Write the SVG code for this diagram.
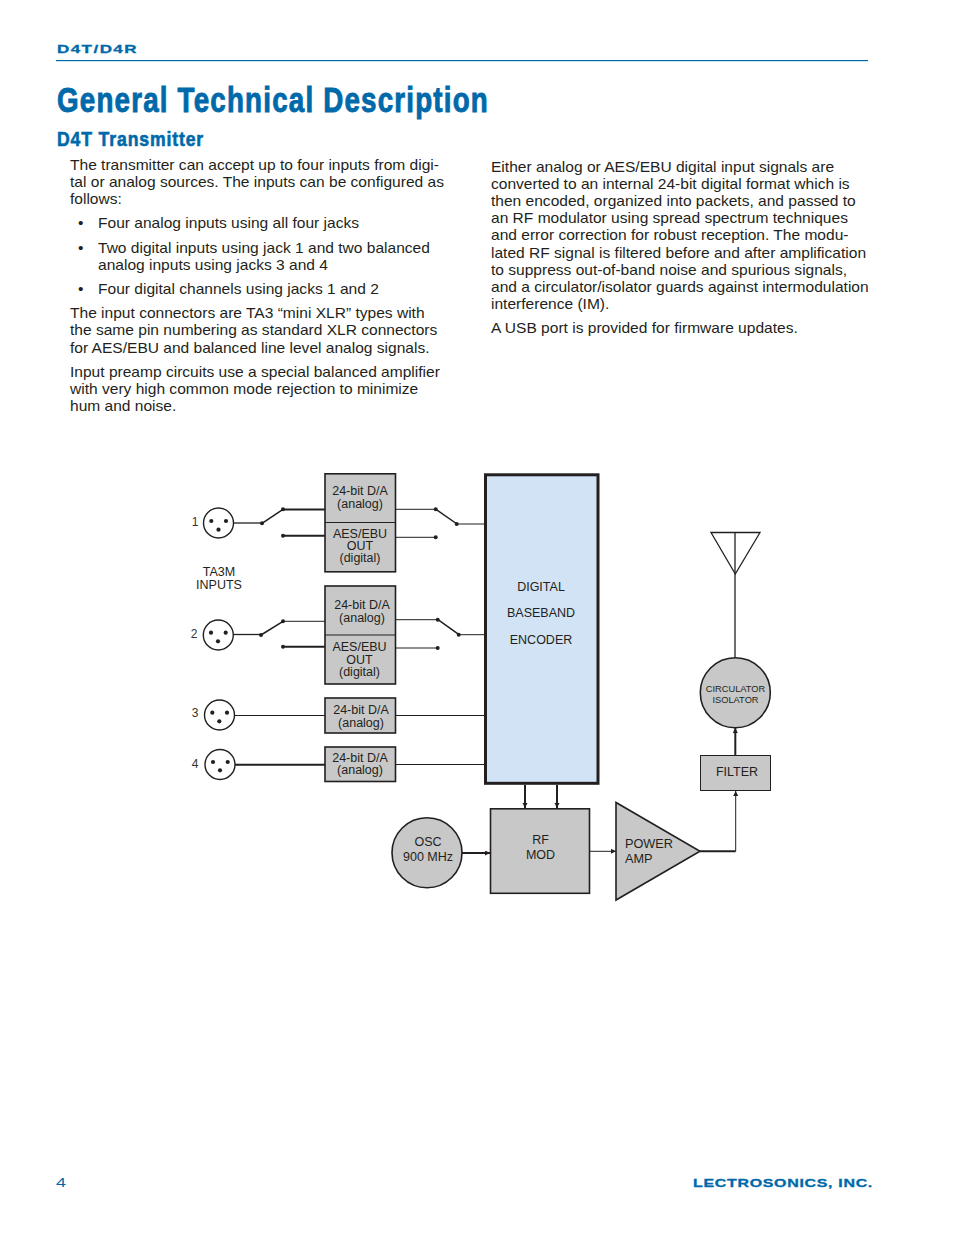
<svg xmlns="http://www.w3.org/2000/svg" width="954" height="1235" viewBox="0 0 954 1235">
<style>
text{font-family:"Liberation Sans",Arial,sans-serif;fill:#231f20}
.b{font-size:15.550px}
.d{font-size:12.500px;text-anchor:middle}
.n{font-size:12px;fill:#333;text-anchor:middle}
.h{fill:#0069aa;font-weight:bold;stroke:#0069aa}
.box{fill:#c8c8c8;stroke:#231f20;stroke-width:1.600}
.l{fill:none;stroke:#231f20;stroke-width:1}
.t{fill:none;stroke:#231f20;stroke-width:2}
.v{fill:none;stroke:#231f20;stroke-width:1.500}
.j{fill:#fff;stroke:#231f20;stroke-width:1.400}
.dot{fill:#231f20}
</style>
<defs>
<marker id="a" markerUnits="userSpaceOnUse" markerWidth="6" markerHeight="6" refX="5" refY="2.500" orient="auto"><path d="M0 0L5 2.500L0 5Z" fill="#231f20"/></marker>
</defs>
<g id="page-header">
<text x="57" y="52.500" class="h" style="stroke-width:.3;letter-spacing:1px" font-size="11.500" textLength="81" lengthAdjust="spacingAndGlyphs">D4T/D4R</text>
<rect x="56" y="60" width="812" height="1.200" fill="#0069aa"/>
<text x="57" y="112" class="h" style="stroke-width:.9;letter-spacing:1.500px" font-size="35" textLength="432" lengthAdjust="spacingAndGlyphs">General Technical Description</text>
<text x="57" y="146" class="h" style="stroke-width:.6;letter-spacing:1px" font-size="20.500" textLength="147" lengthAdjust="spacingAndGlyphs">D4T Transmitter</text>
</g>
<g id="body-left">
<text class="b" x="70" y="170">The transmitter can accept up to four inputs from digi-</text>
<text class="b" x="70" y="187.200">tal or analog sources. The inputs can be configured as</text>
<text class="b" x="70" y="204.400">follows:</text>
<text class="b" x="78" y="228">•</text><text class="b" x="98" y="228">Four analog inputs using all four jacks</text>
<text class="b" x="78" y="253">•</text><text class="b" x="98" y="253">Two digital inputs using jack 1 and two balanced</text>
<text class="b" x="98" y="270">analog inputs using jacks 3 and 4</text>
<text class="b" x="78" y="294">•</text><text class="b" x="98" y="294">Four digital channels using jacks 1 and 2</text>
<text class="b" x="70" y="318">The input connectors are TA3 “mini XLR” types with</text>
<text class="b" x="70" y="335.200">the same pin numbering as standard XLR connectors</text>
<text class="b" x="70" y="353">for AES/EBU and balanced line level analog signals.</text>
<text class="b" x="70" y="377">Input preamp circuits use a special balanced amplifier</text>
<text class="b" x="70" y="394.200">with very high common mode rejection to minimize</text>
<text class="b" x="70" y="411.400">hum and noise.</text>
</g>
<g id="body-right">
<text class="b" x="491" y="172">Either analog or AES/EBU digital input signals are</text>
<text class="b" x="491" y="189">converted to an internal 24-bit digital format which is</text>
<text class="b" x="491" y="206">then encoded, organized into packets, and passed to</text>
<text class="b" x="491" y="223">an RF modulator using spread spectrum techniques</text>
<text class="b" x="491" y="240">and error correction for robust reception. The modu-</text>
<text class="b" x="491" y="258">lated RF signal is filtered before and after amplification</text>
<text class="b" x="491" y="275">to suppress out-of-band noise and spurious signals,</text>
<text class="b" x="491" y="292">and a circulator/isolator guards against intermodulation</text>
<text class="b" x="491" y="309">interference (IM).</text>
<text class="b" x="491" y="333">A USB port is provided for firmware updates.</text>
</g>
<g id="connectors">
<path class="l" style="stroke-width:1.300" d="M233 523H262"/>
<path class="v" d="M262 523.300L283 509.300"/>
<path class="t" d="M283 509.500H325M283 535.700H325"/>
<path class="l" d="M395 509.300H436"/>
<path class="v" d="M436 509.300L457 524"/>
<path class="l" d="M457 524H485M395 537.300H436"/>
<path class="l" style="stroke-width:1.300" d="M233 634.500H261"/>
<path class="v" d="M261 635L283 621.300"/>
<path class="l" d="M283 621.300H325"/>
<path class="t" d="M283 646.700H325"/>
<path class="l" d="M396 619.700H438"/>
<path class="v" d="M438 619.700L459 634.700"/>
<path class="l" d="M459 634.700H485M396 648H438"/>
<path class="l" d="M234 715.500H325M396 715.500H485M396 764.500H485"/>
<path class="t" d="M235 764.700H325"/>
<path class="t" d="M525 785V808" marker-end="url(#a)"/>
<path class="t" d="M557 785V808" marker-end="url(#a)"/>
<path class="t" d="M462 853H490" marker-end="url(#a)"/>
<path class="l" d="M590 851.300H616" marker-end="url(#a)"/>
<path class="t" d="M700 851.300H735.700"/>
<path class="l" d="M735.700 851.300V791" marker-end="url(#a)"/>
<path class="t" d="M735.300 755V728" marker-end="url(#a)"/>
<path class="l" style="stroke-width:1.300" d="M735 532.500V657"/>
<g class="dot">
<circle cx="262" cy="523.300" r="2"/><circle cx="283" cy="509.300" r="2"/><circle cx="283" cy="535.700" r="2"/>
<circle cx="435.700" cy="509.300" r="2"/><circle cx="435.700" cy="537.300" r="2"/><circle cx="456.700" cy="524" r="2"/>
<circle cx="261" cy="635" r="2"/><circle cx="283" cy="621.300" r="2"/><circle cx="283" cy="646.700" r="2"/>
<circle cx="437.700" cy="619.700" r="2"/><circle cx="437.700" cy="648" r="2"/><circle cx="458.700" cy="634.700" r="2"/>
</g>
</g>
<g id="jack-1"><circle class="j" cx="218.500" cy="523" r="15"/><circle class="dot" cx="211.300" cy="521" r="2.100"/><circle class="dot" cx="226" cy="521" r="2.100"/><circle class="dot" cx="218.500" cy="529.700" r="2.100"/><text class="n" x="195" y="526">1</text></g>
<g id="jack-2"><circle class="j" cx="218.300" cy="635" r="15"/><circle class="dot" cx="211" cy="632.700" r="2.100"/><circle class="dot" cx="225.700" cy="632.700" r="2.100"/><circle class="dot" cx="218" cy="641.300" r="2.100"/><text class="n" x="194" y="638">2</text></g>
<g id="jack-3"><circle class="j" cx="219.500" cy="715" r="15"/><circle class="dot" cx="212.300" cy="712.700" r="2.100"/><circle class="dot" cx="227" cy="712.700" r="2.100"/><circle class="dot" cx="219.300" cy="721.300" r="2.100"/><text class="n" x="195" y="717">3</text></g>
<g id="jack-4"><circle class="j" cx="220" cy="764.500" r="15"/><circle class="dot" cx="213" cy="762" r="2.100"/><circle class="dot" cx="227.700" cy="762" r="2.100"/><circle class="dot" cx="220" cy="770.300" r="2.100"/><text class="n" x="195" y="768">4</text></g>
<g id="inputs-label"><text class="d" x="219" y="576">TA3M</text><text class="d" x="219" y="589">INPUTS</text></g>
<g id="da-1"><rect class="box" x="325" y="473.800" width="70.500" height="98"/><path class="t" style="stroke-width:1.200" d="M325 522.500H395.500"/><text class="d" x="360" y="495">24-bit D/A</text><text class="d" x="360" y="508">(analog)</text><text class="d" x="360" y="537.500">AES/EBU</text><text class="d" x="360" y="549.500">OUT</text><text class="d" x="360" y="561.500">(digital)</text></g>
<g id="da-2"><rect class="box" x="325" y="586" width="70.500" height="98"/><path class="t" style="stroke-width:1.200" d="M325 635H395.500"/><text class="d" x="362" y="609">24-bit D/A</text><text class="d" x="362" y="622">(analog)</text><text class="d" x="359.500" y="651">AES/EBU</text><text class="d" x="359.500" y="664">OUT</text><text class="d" x="359.500" y="676">(digital)</text></g>
<g id="da-3"><rect class="box" x="325" y="698" width="70.500" height="35"/><text class="d" x="361" y="714">24-bit D/A</text><text class="d" x="361" y="727">(analog)</text></g>
<g id="da-4"><rect class="box" x="325" y="747" width="70.500" height="34.500"/><text class="d" x="360" y="762">24-bit D/A</text><text class="d" x="360" y="774">(analog)</text></g>
<g id="encoder"><rect x="485.500" y="474.800" width="112.500" height="308.500" fill="#d2e3f5" stroke="#231f20" stroke-width="3"/><text class="d" x="541" y="591">DIGITAL</text><text class="d" x="541" y="617">BASEBAND</text><text class="d" x="541" y="644">ENCODER</text></g>
<g id="rf-mod"><rect class="box" x="490.500" y="808.800" width="99" height="84.500"/><text class="d" x="540.500" y="844">RF</text><text class="d" x="540.500" y="859">MOD</text></g>
<g id="osc"><circle class="box" cx="427" cy="852.800" r="35"/><text class="d" x="428" y="846">OSC</text><text class="d" x="428" y="861">900 MHz</text></g>
<g id="power-amp"><path class="box" d="M616 802.500V900L700 851.300Z"/><text style="font-size:12.700px" x="625" y="848">POWER</text><text style="font-size:12.700px" x="625" y="863">AMP</text></g>
<g id="filter"><rect class="box" style="stroke-width:1" x="700.500" y="755.500" width="70" height="35"/><text style="font-size:12.500px;text-anchor:middle" x="737" y="776">FILTER</text></g>
<g id="circulator"><circle class="box" cx="735.300" cy="692.700" r="35"/><text class="d" style="font-size:9.300px" x="735.500" y="692">CIRCULATOR</text><text class="d" style="font-size:9.300px" x="735.500" y="703">ISOLATOR</text></g>
<g id="antenna"><path class="l" style="stroke-width:1.300" d="M711 532.500H760L735.300 574Z"/></g>
<g id="page-footer">
<text x="56" y="1187" font-size="12" style="fill:#0069aa" textLength="10" lengthAdjust="spacingAndGlyphs">4</text>
<text x="693" y="1187" class="h" style="stroke-width:.3;letter-spacing:.5px" font-size="11.500" textLength="180" lengthAdjust="spacingAndGlyphs">LECTROSONICS, INC.</text>
</g>
</svg>
